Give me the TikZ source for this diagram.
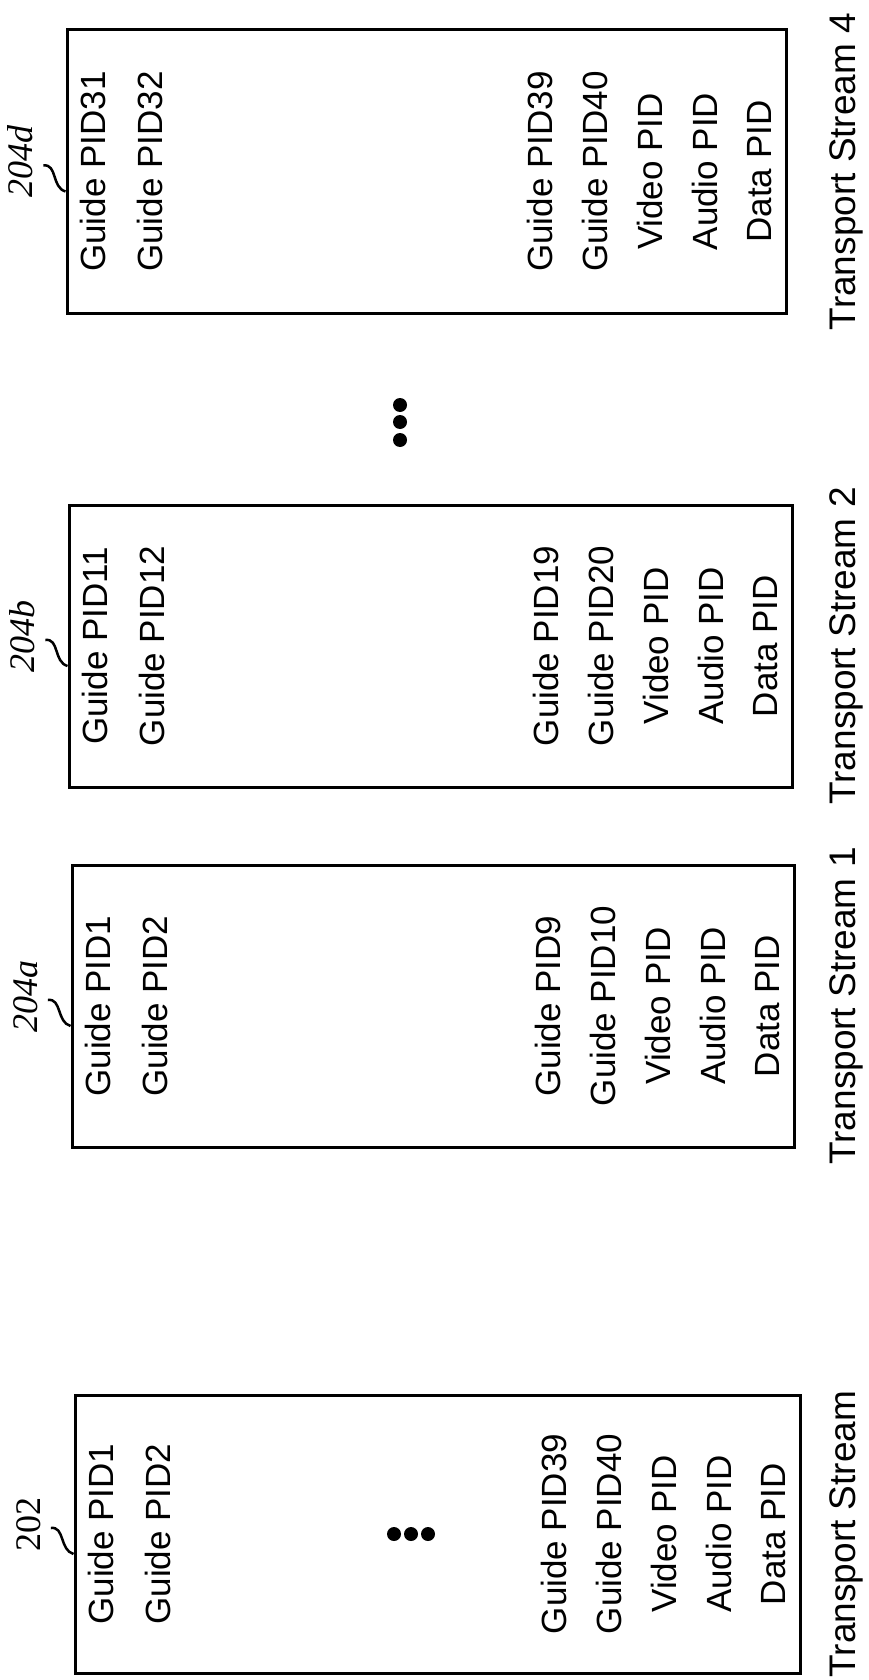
\documentclass[tikz,border=0pt]{standalone}
\usepackage{fontspec}
\setmainfont{Liberation Sans}
\newfontfamily\reffont{Liberation Serif}
\usetikzlibrary{calc}

\begin{document}
\begin{tikzpicture}[
    x=1pt, y=-1pt,
    streambox/.style={draw, line width=3pt, inner sep=0pt},
    pidtext/.style={rotate=90, inner sep=0pt, font=\fontsize{35}{40}\selectfont},
    streamtext/.style={rotate=90, inner sep=0pt, font=\fontsize{37}{42}\selectfont},
    reflabel/.style={rotate=90, inner sep=0pt, font=\reffont\fontsize{36}{40}\selectfont},
    squiggle/.style={line width=2.5pt},
    ]

    \useasboundingbox (0,0) rectangle (869,1680);

    % Macro for one transport stream box with its PID list
    % Parameters: ID, Left, Top, Right, Bottom, Ref_Label, Left_Guides, Right_Guides, Stream_Label
    \newcommand{\pidbox}[9]{
        \pgfmathsetmacro{\cx}{(#2+#4)/2}
        \pgfmathsetmacro{\cy}{(#3+#5)/2}
        \pgfmathsetmacro{\bw}{#4-#2}
        \pgfmathsetmacro{\bh}{#5-#3}

        % Box outline
        \node[streambox, minimum width=\bw pt, minimum height=\bh pt] (box-#1) at (\cx,\cy) {};

        % First guide PIDs (left group)
        \foreach \n [count=\idx] in {#7}
            \node[pidtext] (box-#1-g\n) at ($(box-#1.west)+(27+57*\idx-57,0)$) {Guide PID\n};

        % Last guide PIDs (right group)
        \foreach \n [count=\idx] in {#8}
            \node[pidtext] (box-#1-g\n) at ($(box-#1.east)+(-303+55*\idx,0)$) {Guide PID\n};

        % Video / Audio / Data
        \foreach \kind [count=\idx] in {Video,Audio,Data}
            \node[pidtext] (box-#1-\kind) at ($(box-#1.east)+(-193+55*\idx,0)$) {\kind\ PID};

        % Stream name below, reference number with squiggle above
        \node[streamtext] (ts-#1) at (846,\cy) {#9};
        \node[reflabel] (ref-#1) at ($(box-#1.west)+(-45,-10)$) {#6};
        \draw[squiggle] ($(ref-#1.south)+(10,4)$) .. controls +(14,-2) and +(-14,-4) .. ($(box-#1.west)+(0,20)$);
    }

    % ==========================================
    % Transport streams
    % ==========================================
    \pidbox{d}{67}{30}{786}{313}{\textit{204d}}{31,32}{39,40}{Transport Stream 4}
    \pidbox{b}{69}{505}{792}{787}{\textit{204b}}{11,12}{19,20}{Transport Stream 2}
    \pidbox{a}{72}{865}{794}{1147}{\textit{204a}}{1,2}{9,10}{Transport Stream 1}
    \pidbox{main}{75}{1395}{800}{1673}{202}{1,2}{39,40}{Transport Stream}

    % ==========================================
    % Ellipses
    % ==========================================
    % between stream 2 and stream 4
    \foreach \yy in {405,422,440}
        \fill (400,\yy) circle[radius=7pt];
    % inside the full transport stream
    \foreach \xx in {394,411,428}
        \fill (\xx,1534) circle[radius=7pt];

\end{tikzpicture}
\end{document}
